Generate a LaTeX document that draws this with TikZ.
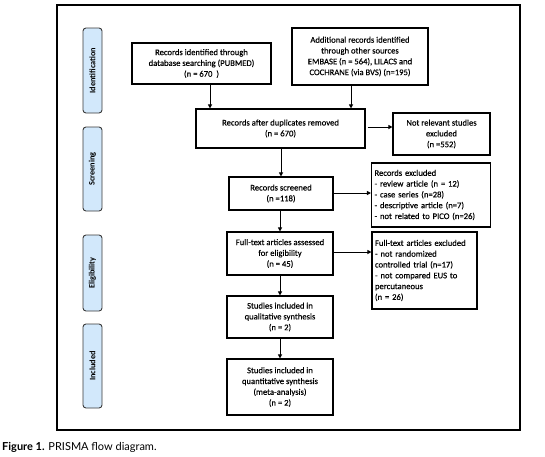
\documentclass[tikz,border=0pt]{standalone}
\usepackage{fontspec}
\setmainfont{Carlito}
\newfontfamily\boxfont{Carlito}[FakeBold=0.35]
\newfontfamily\capfont{Lato}
\usetikzlibrary{arrows.meta}
\definecolor{phasefill}{HTML}{D2E8FB}
\definecolor{phasedraw}{HTML}{3A3A3A}
\begin{document}
\begin{tikzpicture}[x=1pt,y=-1pt,
  box/.style={draw=black,line width=1.1pt,fill=white,align=center,inner sep=2pt,
    font=\boxfont\fontsize{8.6}{10.8}\selectfont},
  lbox/.style={box,align=left},
  phase/.style={draw=phasedraw,line width=0.9pt,fill=phasefill,rounded corners=3pt,
    minimum width=19pt,inner sep=0pt},
  ptext/.style={rotate=90,inner sep=0pt,font=\fontsize{8.3}{9}\selectfont\bfseries},
  arr/.style={line width=1pt,-{Triangle[length=4pt,width=4pt]}}
]
\useasboundingbox (0,0) rectangle (545,456);
\node[draw=black,line width=1.1pt,minimum width=463pt,minimum height=425pt,inner sep=0pt] (frame) at (288.5,217.5) {};

\node[phase,minimum height=85pt] (pid) at (92.5,70.5) {};
\node[ptext] (tid) at (pid) {Identification};
\node[phase,minimum height=84pt] (psc) at (92.5,169) {};
\node[ptext] (tsc) at (psc) {Screening};
\node[phase,minimum height=76pt] (pel) at (92.5,273) {};
\node[ptext] (tel) at (pel) {Eligibility};
\node[phase,minimum height=84pt] (pin) at (92.5,366) {};
\node[ptext] (tin) at (pin) {Included};

\node[box,minimum width=139pt,minimum height=41pt] (b1) at (201.5,63.5)
  {Records identified through\\database searching (PUBMED)\\(n = 670~~)};
\node[box,minimum width=136pt,minimum height=57pt] (b2) at (360,56.5)
  {Additional records identified\\through other sources\\EMBASE (n = 564), LILACS and\\COCHRANE (via BVS) (n=195)};
\node[box,minimum width=169pt,minimum height=39pt] (b3) at (280.5,128.5)
  {Records after duplicates removed\\(n = 670)};
\node[box,minimum width=97pt,minimum height=42pt] (b4) at (441.5,134)
  {Not relevant studies\\excluded\\(n =552)};
\node[box,minimum width=104pt,minimum height=33pt] (b5) at (281,193.5)
  {Records screened\\(n =118)};
\node[lbox,minimum width=119pt,minimum height=64pt,text width=113pt] (b6) at (431,195)
  {Records excluded\\- review article (n = 12)\\- case series (n=28)\\- descriptive article (n=7)\\- not related to PICO (n=26)};
\node[lbox,minimum width=105pt,minimum height=77pt,text width=99pt] (b8) at (424.5,270.5)
  {Full-text articles excluded\\- not randomized\\controlled trial (n=17)\\- not compared EUS to\\percutaneous\\(n = 26)};
\node[box,minimum width=106pt,minimum height=43pt] (b7) at (280,253.5)
  {Full-text articles assessed\\for eligibility\\(n = 45)};
\node[box,minimum width=106pt,minimum height=42pt] (b9) at (280,317)
  {Studies included in\\qualitative synthesis\\(n = 2)};
\node[box,minimum width=106pt,minimum height=56pt] (b10) at (280,387)
  {Studies included in\\quantitative synthesis\\(meta-analysis)\\(n = 2)};

\coordinate (xa) at (210,0);
\coordinate (xb) at (351,0);
\coordinate (ya) at (0,127);
\coordinate (yb) at (0,193);
\coordinate (yc) at (0,252);

\draw[arr] (b1.south -| xa) -- (b3.north -| xa);
\draw[arr] (b2.south -| xb) -- (b3.north -| xb);
\draw[arr,shorten <=2pt] (b3.east |- ya) -- (b4.west |- ya);
\draw[arr] (b3.south -| b5) -- (b5.north);
\draw[arr] (b5.east |- yb) -- (b6.west |- yb);
\draw[arr] (b5.south -| b7) -- (b7.north);
\draw[arr] (b7.east |- yc) -- (b8.west |- yc);
\draw[arr] (b7.south) -- (b9.north);
\draw[arr] (b9.south) -- (b10.north);

\node[anchor=base west,inner sep=0pt,font=\capfont\fontsize{11}{13}\selectfont] (cap) at (2,450)
  {\textbf{Figure 1.} PRISMA flow diagram.};
\end{tikzpicture}
\end{document}
